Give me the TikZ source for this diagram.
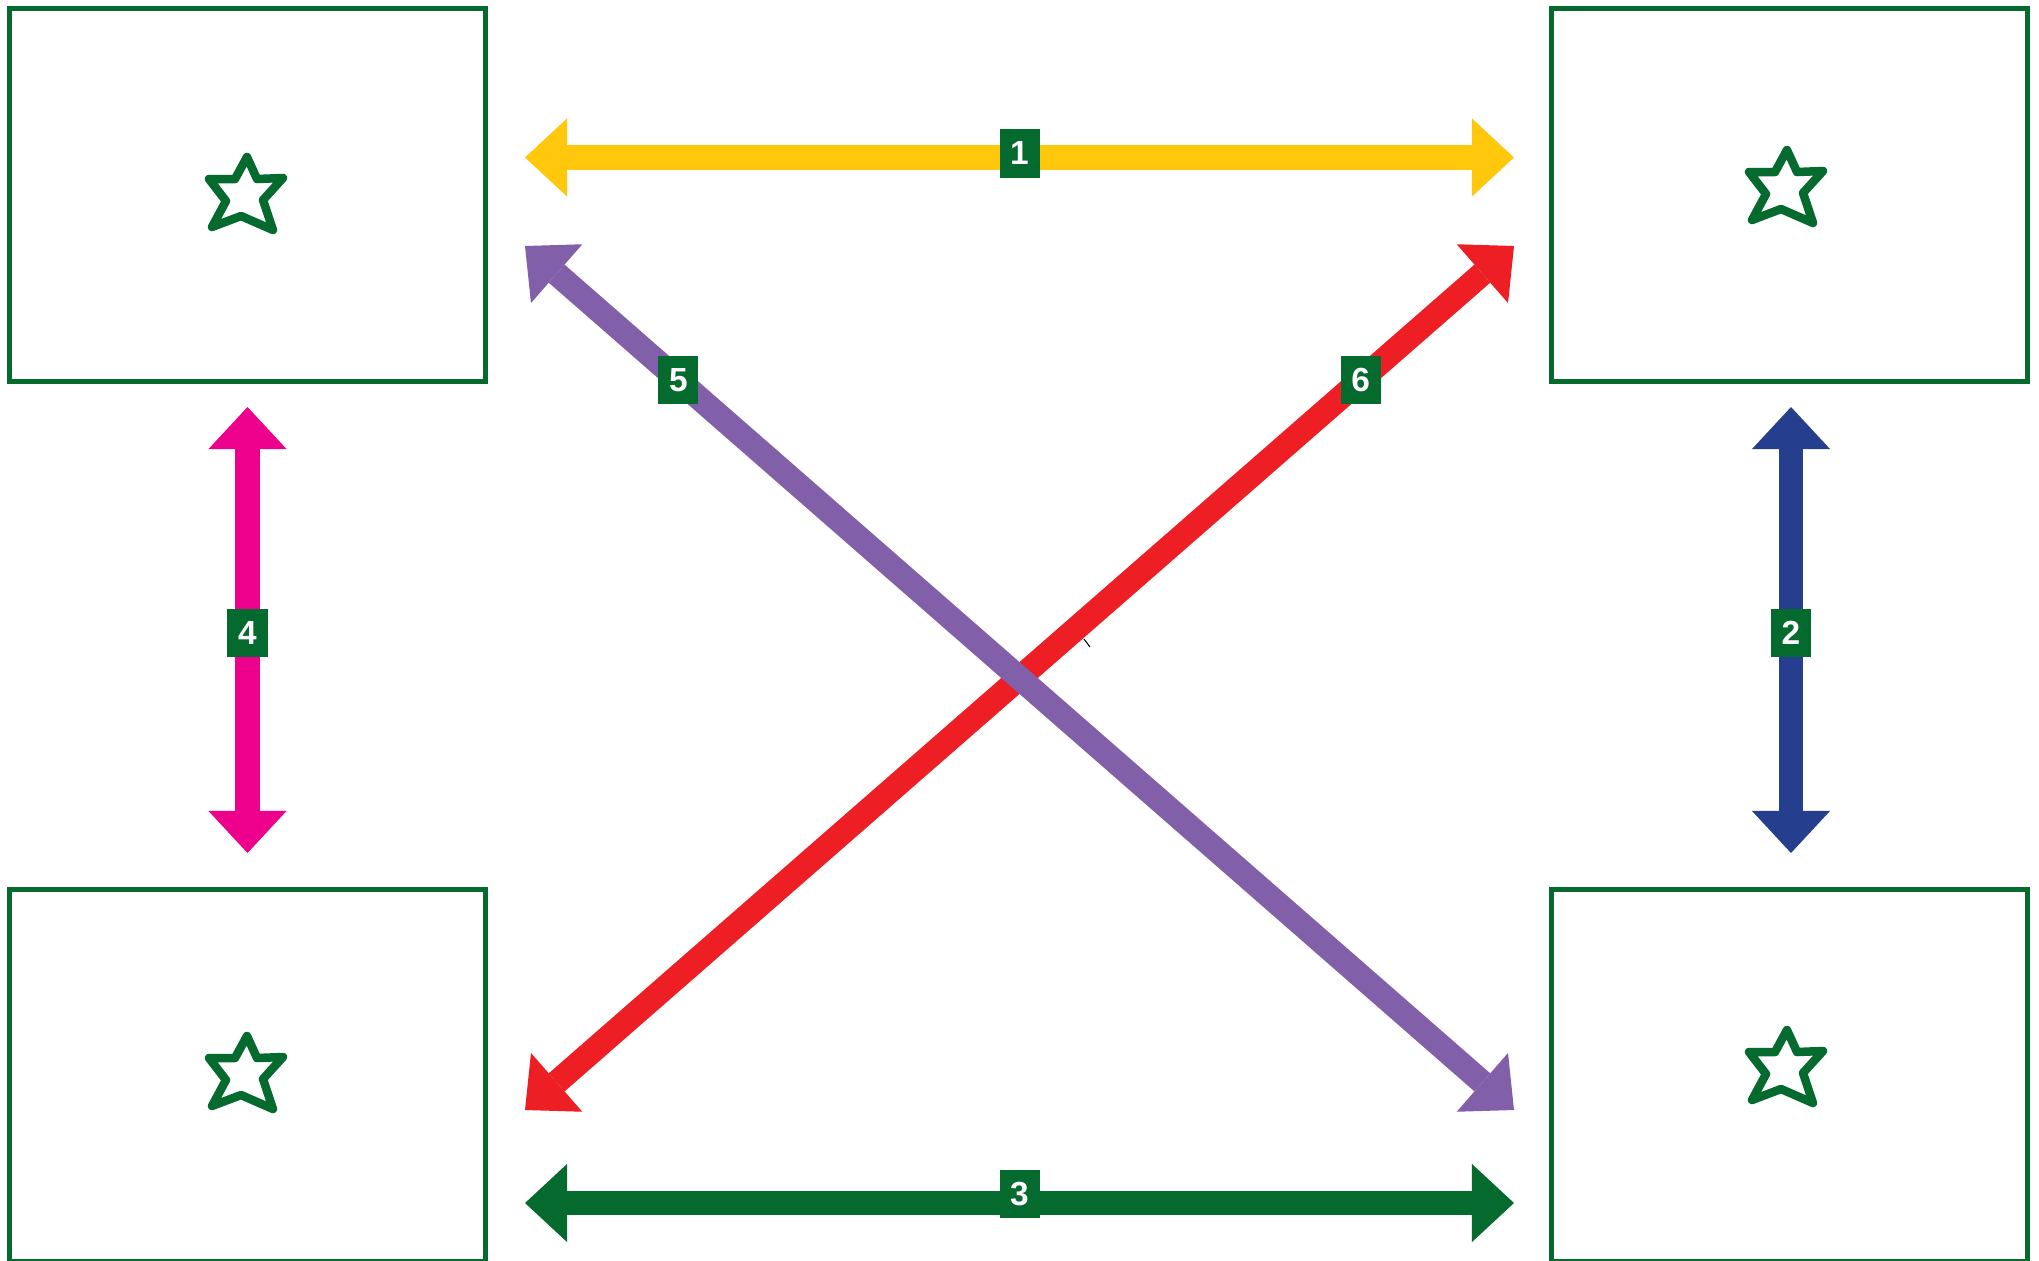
\documentclass[tikz,border=0pt]{standalone}
\usepackage{fontspec}
\setmainfont{Liberation Sans}
\usepackage{xcolor}
\usetikzlibrary{arrows.meta, positioning}

\definecolor{framegreen}{RGB}{4,106,46}
\definecolor{ayellow}{RGB}{255,200,12}
\definecolor{apurple}{RGB}{130,96,169}
\definecolor{ared}{RGB}{237,30,36}
\definecolor{amagenta}{RGB}{236,0,140}
\definecolor{anavy}{RGB}{37,63,142}

\begin{document}
\begin{tikzpicture}[
    x=0.01cm, y=-0.01cm,
    panel/.style={rectangle, draw=framegreen, line width=0.05cm, minimum width=4.76cm, minimum height=3.72cm, inner sep=0pt},
    dbl/.style={line width=0.24cm, {Triangle[length=0.42cm, width=0.78cm, line width=0pt]}-{Triangle[length=0.42cm, width=0.78cm, line width=0pt]}},
    num/.style={rectangle, fill=framegreen, text=white, inner sep=0pt, minimum width=0.40cm, minimum height=0.48cm, font=\fontsize{9.5}{11}\selectfont\bfseries},
    hstar/.pic={\draw[framegreen, line width=0.085cm, line join=round, line cap=round] (0,-36) -- (10,-14) -- (36,-15) -- (16,7) -- (26,37) -- (-6,23) -- (-35,34) -- (-21,8) -- (-38,-14) -- (-12,-14) -- cycle;}
]
\useasboundingbox (0,0) rectangle (2039,1260);

% Panels
\node[panel] (nw) at (247.5,195) {};
\node[panel, right=10.6cm of nw] (ne) {};
\node[panel, below=5.03cm of nw] (sw) {};
\node[panel, below=5.03cm of ne] (se) {};

% Stars
\pic at (247,193) {hstar};
\pic at (1787,186) {hstar};
\pic at (247,1072) {hstar};
\pic at (1787,1066) {hstar};

% Arrow ends
\coordinate (y1) at (525,157.5);
\coordinate (y2) at (1514,157.5);
\coordinate (g1) at (525,1203);
\coordinate (g2) at (1514,1203);
\coordinate (m1) at (247.5,407);
\coordinate (m2) at (247.5,853);
\coordinate (b1) at (1791,407);
\coordinate (b2) at (1791,853);
\coordinate (p1) at (525,246);
\coordinate (p2) at (1514,1110);
\coordinate (r1) at (1514,246);
\coordinate (r2) at (525,1110);

% Arrows
\draw[dbl, ayellow] (y1) -- (y2) node[num, midway, yshift=0.04cm] (n1) {1};
\draw[dbl, anavy] (b1) -- (b2) node[num, pos=0.507] (n2) {2};
\draw[dbl, framegreen] (g1) -- (g2) node[num, midway, yshift=0.09cm] (n3) {3};
\draw[dbl, amagenta] (m1) -- (m2) node[num, pos=0.507] (n4) {4};
\draw[dbl, ared] (r1) -- (r2) node[num, pos=0.155] (n6) {6};
\draw[dbl, apurple] (p1) -- (p2) node[num, pos=0.155] (n5) {5};

\draw[black, line width=0.3pt] (1084,639) -- (1090,647);

\end{tikzpicture}
\end{document}
